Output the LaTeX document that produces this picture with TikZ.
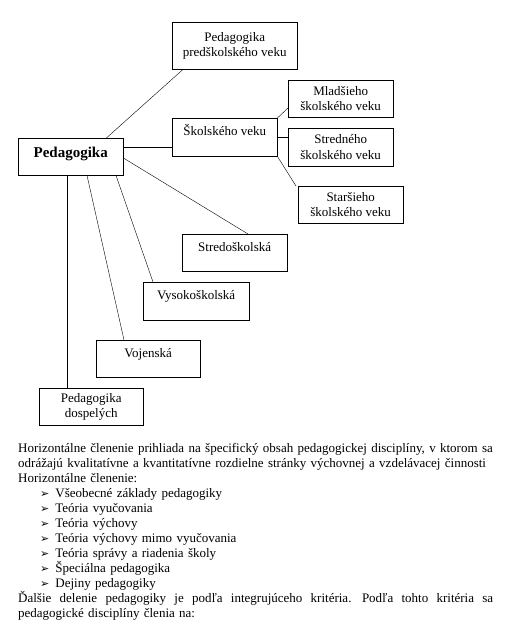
\documentclass[tikz,border=0pt]{standalone}
\usepackage{fontspec}
\setmainfont{Liberation Serif}
\newfontfamily\symfont{DejaVu Sans}
\usetikzlibrary{positioning}
\newcommand{\bul}{\hspace*{22pt}{\symfont\fontsize{11}{15}\selectfont ➢}\hspace{6pt}}

\begin{document}
\begin{tikzpicture}[x=1pt, y=-1pt,
    box/.style={draw, anchor=north west, inner sep=3pt, align=center, font=\fontsize{13}{15.5}\selectfont},
    onebox/.style={box, text height=14pt, text depth=17pt},
    root/.style={draw, anchor=north west, inner sep=0pt, align=center, font=\fontsize{15}{17}\selectfont\bfseries, text height=19pt, text depth=18pt},
    body/.style={anchor=base west, inner sep=0pt, text width=490pt, align=left, font=\fontsize{13}{15}\selectfont}
]
    \useasboundingbox (0,0) rectangle (507,622);

    \node[box, minimum width=125pt, minimum height=47pt] (pre) at (172,22) {Pedagogika\\predškolského veku};
    \node[root, minimum width=105pt, minimum height=37pt] (ped) at (18,138) {Pedagogika};
    \node[onebox, minimum width=105pt, minimum height=38pt] (skol) at (172,118) {Školského veku};
    \node[box, minimum width=105pt, minimum height=37pt] (mlad) at (288,80) {Mladšieho\\školského veku};
    \node[box, minimum width=105pt, minimum height=38pt] (stred) at (288,128) {Stredného\\školského veku};
    \node[box, minimum width=105pt, minimum height=37pt] (stars) at (298,186) {Staršieho\\školského veku};
    \node[onebox, minimum width=105pt, minimum height=37pt] (ss) at (182,234) {Stredoškolská};
    \node[onebox, minimum width=106pt, minimum height=38pt] (vs) at (143,282) {Vysokoškolská};
    \node[onebox, minimum width=104pt, minimum height=37pt] (voj) at (96,340) {Vojenská};
    \node[box, minimum width=104pt, minimum height=37pt] (dosp) at (39,388) {Pedagogika\\dospelých};

    \draw ([xshift=-17pt]ped.north east) -- ([xshift=11pt]pre.south west);
    \draw ([yshift=-9pt]ped.north east) -- ([yshift=-29pt]skol.north west);
    \draw ([yshift=-20pt]ped.north east) -- ([xshift=66pt]ss.north west);
    \draw ([xshift=98pt]ped.south west) -- ([xshift=10pt]vs.north west);
    \draw ([xshift=69pt]ped.south west) -- ([xshift=28pt]voj.north west);
    \draw ([xshift=49pt]ped.south west) -- ([xshift=28pt]dosp.north west);
    \draw (skol.north east) -- ([yshift=-28pt]mlad.north west);
    \draw ([yshift=-19pt]skol.north east) -- ([yshift=-9pt]stred.north west);
    \draw (skol.south east) -- ([xshift=-2pt]stars.north west);

    \node[body] (text) at (18,452) {Horizontálne členenie prihliada na špecifický obsah pedagogickej disciplíny, v ktorom sa\\
        odrážajú kvalitatívne a kvantitatívne rozdielne stránky výchovnej a vzdelávacej činnosti\\
        Horizontálne členenie:\\
        \bul Všeobecné základy pedagogiky\\
        \bul Teória vyučovania\\
        \bul Teória výchovy\\
        \bul Teória výchovy mimo vyučovania\\
        \bul Teória správy a riadenia školy\\
        \bul Špeciálna pedagogika\\
        \bul Dejiny pedagogiky\\
        \leavevmode\hbox to 475pt{\spaceskip=3pt plus 1fil Ďalšie delenie pedagogiky je podľa integrujúceho kritéria.\hspace{4pt} Podľa tohto kritéria sa}\\
        pedagogické disciplíny členia na:};
\end{tikzpicture}
\end{document}
